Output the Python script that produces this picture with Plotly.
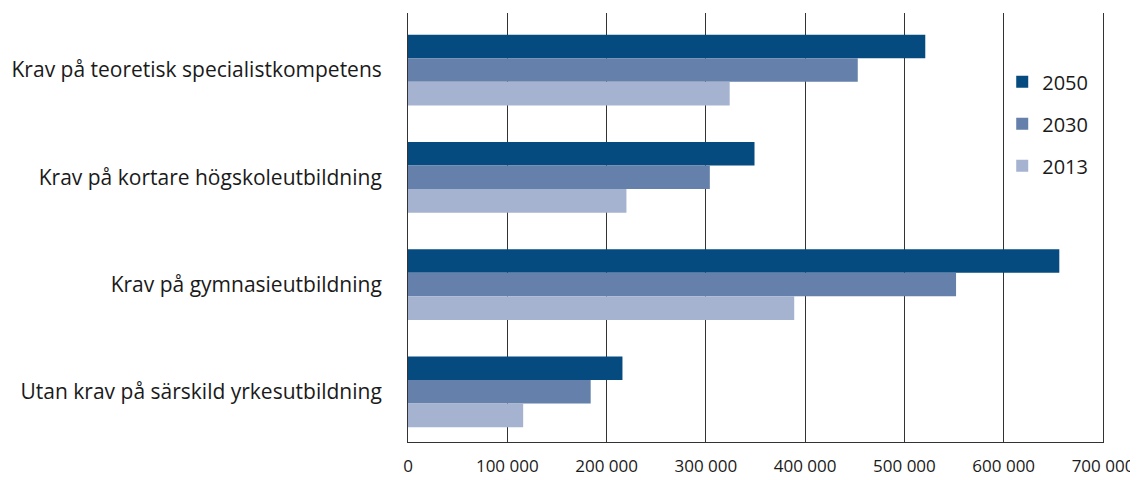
import plotly.graph_objects as go

categories = [
    "Krav på teoretisk specialistkompetens",
    "Krav på kortare högskoleutbildning",
    "Krav på gymnasieutbildning",
    "Utan krav på särskild yrkesutbildning",
]
series_names = ["2050", "2030", "2013"]
values_2050 = [521000, 349000, 656000, 216000]
values_2030 = [453000, 304000, 552000, 184000]
values_2013 = [324000, 220000, 389000, 116000]
tick_values = [0, 100000, 200000, 300000, 400000, 500000, 600000, 700000]
tick_labels = ["0", "100 000", "200 000", "300 000", "400 000", "500 000", "600 000", "700 000"]

colors = ["#064b7f", "#6580aa", "#a5b3d0"]
series_values = [values_2050, values_2030, values_2013]

FONT = "Open Sans"

fig = go.Figure()
for name, vals, col in zip(series_names, series_values, colors):
    fig.add_trace(go.Bar(
        y=categories, x=vals, name=name, orientation="h",
        marker=dict(color=col, line=dict(width=0)),
        legendgroup=name,
    ))

fig.update_layout(
    width=1130, height=472,
    margin=dict(l=400, r=35, t=5, b=38, autoexpand=False),
    paper_bgcolor="white", plot_bgcolor="white",
    barmode="group", bargap=0.34, bargroupgap=0,
    font=dict(family=FONT, size=18, color="#1a1a1a"),
    showlegend=True,
    legend=dict(
        x=0.855, xanchor="left", y=0.885, yanchor="top",
        traceorder="grouped", tracegroupgap=13,
        font=dict(family=FONT, size=20, color="#1a1a1a"),
        bgcolor="rgba(0,0,0,0)",
    ),
)

fig.update_xaxes(
    range=[0, 700000], tickvals=tick_values, ticktext=tick_labels,
    showgrid=True, gridcolor="#333333", gridwidth=1,
    showline=True, linecolor="#333333", linewidth=1,
    zeroline=False, ticks="", ticklabelstandoff=9,
    tickfont=dict(family=FONT, size=17, color="#1a1a1a"),
    fixedrange=True,
)
fig.update_yaxes(
    type="category", range=[3.468, -0.532],
    showgrid=False, showline=True, mirror=True,
    linecolor="#333333", linewidth=1,
    ticks="", ticklabelstandoff=21,
    tickfont=dict(family=FONT, size=21, color="#1a1a1a"),
    fixedrange=True,
)

fig.write_html("out.html")
